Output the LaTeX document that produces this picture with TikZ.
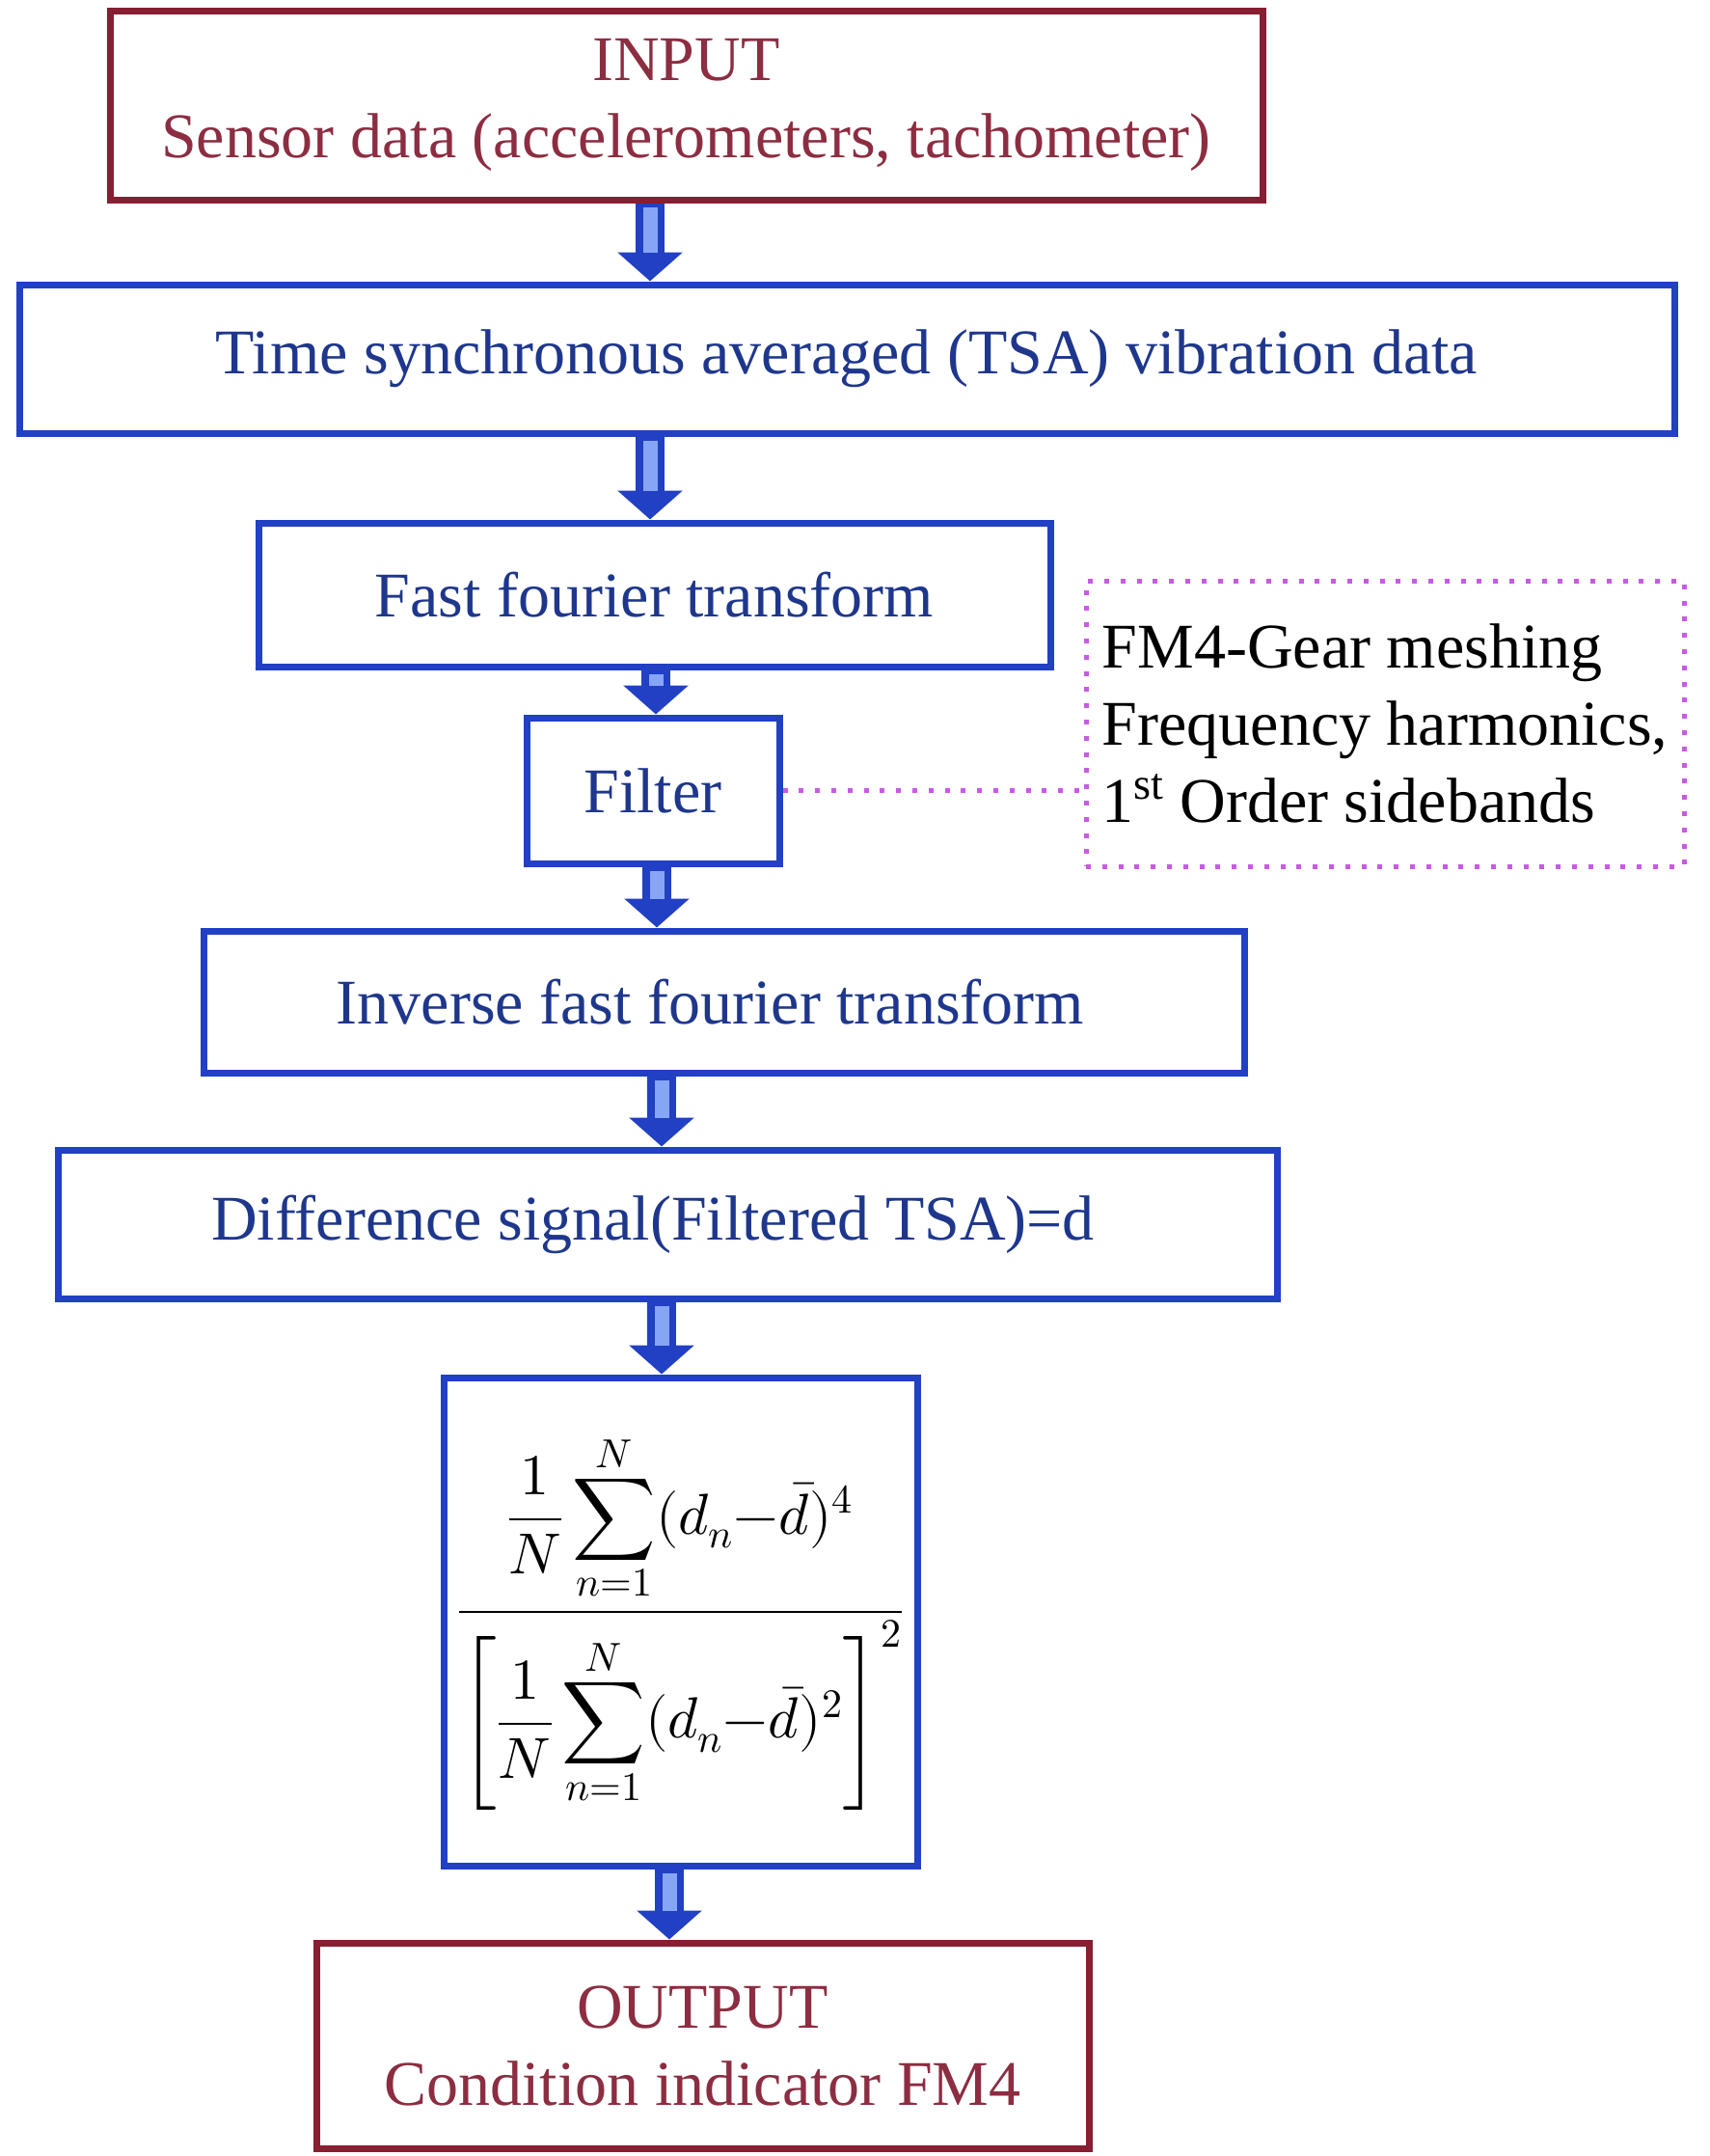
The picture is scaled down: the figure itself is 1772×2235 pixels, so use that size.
\documentclass[tikz,border=0pt]{standalone}
\usepackage{amsmath}
\usepackage{fontspec}
\usepackage{unicode-math}
\setmainfont{Liberation Serif}
\usepackage{tikz}
\usetikzlibrary{arrows.meta, calc, positioning}

\definecolor{boxblue}{RGB}{33,64,196}
\definecolor{textblue}{RGB}{30,55,140}
\definecolor{boxred}{RGB}{135,30,50}
\definecolor{textred}{RGB}{140,45,65}
\definecolor{notepink}{RGB}{200,90,230}
\definecolor{arrowlight}{RGB}{135,165,245}

\tikzset{
  stage/.style={draw=boxblue, line width=7pt, text=textblue, align=center,
    inner sep=0pt, font=\fontsize{66}{80}\selectfont},
  iobox/.style={stage, draw=boxred, text=textred},
  dotline/.style={draw=notepink, line width=5pt, dash pattern=on 5pt off 11.8pt},
  notebox/.style={dotline, align=left, inner sep=0pt, font=\fontsize{66}{80}\selectfont},
  flow/.style={draw=boxblue, line width=30pt, -{Triangle[width=66pt,length=30pt]}},
  flowcore/.style={draw=arrowlight, line width=15pt, shorten >=30pt, shorten <=4pt}
}

\begin{document}
\begin{tikzpicture}[x=1pt, y=-1pt]
          \useasboundingbox (0,0) rectangle (1772,2235);
          % boxes
          \node[iobox, minimum width=1195pt, minimum height=196pt] (input) at (711.5,109)
            {INPUT\\Sensor data (accelerometers, tachometer)};
          \node[stage, minimum width=1716pt, minimum height=154pt] (tsa) at (878,372)
            {Time synchronous averaged (TSA) vibration data};
          \node[stage, minimum width=821pt, minimum height=149pt] (fft) at (678.5,616.5)
            {Fast fourier transform};
          \node[stage, minimum width=262pt, minimum height=151pt] (filter) at (677,819.5)
            {Filter};
          \node[stage, minimum width=1079pt, minimum height=147pt] (ifft) at (750.5,1038.5)
            {Inverse fast fourier transform\hspace*{28pt}};
          \node[stage, minimum width=1264pt, minimum height=154pt] (diff) at (692,1269)
            {Difference signal(Filtered TSA)=d\hspace*{30pt}};
          \node[stage, minimum width=491pt, minimum height=506pt, text=black,
            font=\fontsize{60}{72}\selectfont] (fm4) at (705.5,1681)
            {$\dfrac{\dfrac{1}{N}\displaystyle\sum_{n=1}^{N}(d_n{-}\bar{d})^4}
              {\left[\dfrac{1}{N}\displaystyle\sum_{n=1}^{N}(d_n{-}\bar{d})^2\right]^{2}}$};
          \node[iobox, minimum width=801pt, minimum height=213pt] (output) at (728.5,2120.5)
            {OUTPUT\\Condition indicator FM4};
          \node[notebox, minimum width=620pt, minimum height=296pt] (note) at (1436,750)
            {FM4-Gear meshing\\Frequency harmonics,\\1\textsuperscript{st} Order sidebands};
          % dotted link
          \draw[dotline] (filter.east) -- (filter.east -| note.west);
          % block arrows
          \draw[flow] (674,0 |- input.south) -- (674,0 |- tsa.north);
          \draw[flowcore] (674,0 |- input.south) -- (674,0 |- tsa.north);
          \draw[flow] (674,0 |- tsa.south) -- (674,0 |- fft.north);
          \draw[flowcore] (674,0 |- tsa.south) -- (674,0 |- fft.north);
          \draw[flow] (680,0 |- fft.south) -- (680,0 |- filter.north);
          \draw[flowcore] (680,0 |- fft.south) -- (680,0 |- filter.north);
          \draw[flow] (681,0 |- filter.south) -- (681,0 |- ifft.north);
          \draw[flowcore] (681,0 |- filter.south) -- (681,0 |- ifft.north);
          \draw[flow] (686,0 |- ifft.south) -- (686,0 |- diff.north);
          \draw[flowcore] (686,0 |- ifft.south) -- (686,0 |- diff.north);
          \draw[flow] (686,0 |- diff.south) -- (686,0 |- fm4.north);
          \draw[flowcore] (686,0 |- diff.south) -- (686,0 |- fm4.north);
          \draw[flow] (694,0 |- fm4.south) -- (694,0 |- output.north);
          \draw[flowcore] (694,0 |- fm4.south) -- (694,0 |- output.north);
\end{tikzpicture}
\end{document}
